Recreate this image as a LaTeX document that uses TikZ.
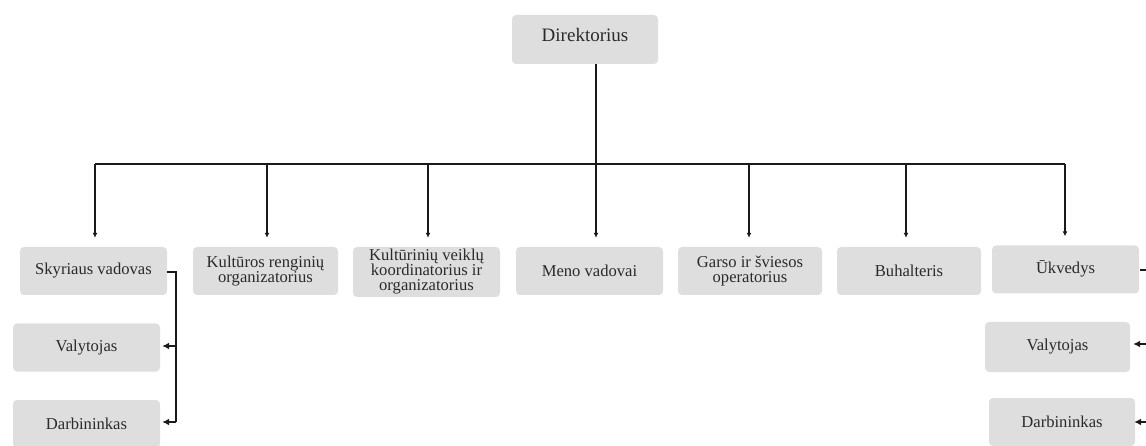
\documentclass[tikz,border=0pt]{standalone}
\usepackage{fontspec}
\setmainfont{Liberation Serif}
\usetikzlibrary{arrows.meta}
\definecolor{boxfill}{HTML}{DEDEDE}
\definecolor{txt}{HTML}{2A2A2A}
\definecolor{ln}{HTML}{1A1A1A}
\begin{document}
\begin{tikzpicture}[x=1pt,y=-1pt,
  box/.style={fill=boxfill, rounded corners=4pt, minimum width=147pt, minimum height=48pt,
    inner sep=0pt, text=txt, align=center, font=\fontsize{16.6}{15}\selectfont},
  conn/.style={draw=ln, line width=1.5pt},
  arr/.style={conn, -{Latex[length=7pt,width=7pt]}},
  tip/.style={conn, -{Latex[length=5pt,width=5pt]}}]
\useasboundingbox (0,0) rectangle (1146,446);
\clip (0,0) rectangle (1146,446);
% boxes
\node[box, minimum width=146pt, minimum height=49pt, font=\fontsize{19}{19}\selectfont] (dir) at (585,39.5) {\raisebox{9pt}{Direktorius}};
\node[box] (b1) at (93.5,271) {\raisebox{3pt}{Skyriaus vadovas}};
\node[box, minimum width=145pt] (b2) at (265.5,271) {Kultūros renginių\\organizatorius};
\node[box, minimum height=50pt] (b3) at (426.5,272) {Kultūrinių veiklų\\koordinatorius ir\\organizatorius};
\node[box] (b4) at (589.5,271) {Meno vadovai};
\node[box, minimum width=144pt] (b5) at (750,271) {Garso ir šviesos\\operatorius};
\node[box, minimum width=144pt] (b6) at (909,271) {Buhalteris};
\node[box] (b7) at (1065.5,269.5) {\raisebox{4pt}{Ūkvedys}};
\node[box] (v1) at (86.5,347.5) {Valytojas};
\node[box] (d1) at (86.5,424) {Darbininkas};
\node[box, minimum width=145pt, minimum height=50pt] (v2) at (1057.5,347) {Valytojas};
\node[box, minimum width=146pt] (d2) at (1062,422) {Darbininkas};
% bar junctions
\coordinate (j0) at (596,164);
\coordinate (j1) at (95,164);
\coordinate (j2) at (267,164);
\coordinate (j3) at (428,164);
\coordinate (j4) at (596,164);
\coordinate (j5) at (749,164);
\coordinate (j6) at (906,164);
\coordinate (j7) at (1065,164);
\draw[conn] (dir.south -| j0) -- (j0);
\draw[conn, line width=1.3pt] (j1) -- (j7);
\foreach \i in {1,...,7}{
  \draw[tip, shorten >=9pt] (j\i) -- (j\i |- b\i.north);
}
% left sub-branch
\coordinate (l0) at (176,272);
\coordinate (l1) at (176,346);
\coordinate (l2) at (176,422);
\draw[conn] (b1.east |- l0) -- (l0) -- (l2);
\draw[arr, shorten >=2pt] (l1) -- (v1.east |- l1);
\draw[arr, shorten >=2pt] (l2) -- (v1.east |- l2);
% right sub-branch (mostly off the page)
\coordinate (r0) at (1152,270);
\coordinate (r1) at (1152,344);
\coordinate (r2) at (1152,422);
\draw[conn] ([xshift=1pt]b7.east |- r0) -- (r0) -- (r2);
\draw[arr, shorten >=3pt] (r1) -- (v2.east |- r1);
\draw[arr, shorten >=-1pt] (r2) -- (d2.east |- r2);
\end{tikzpicture}
\end{document}
